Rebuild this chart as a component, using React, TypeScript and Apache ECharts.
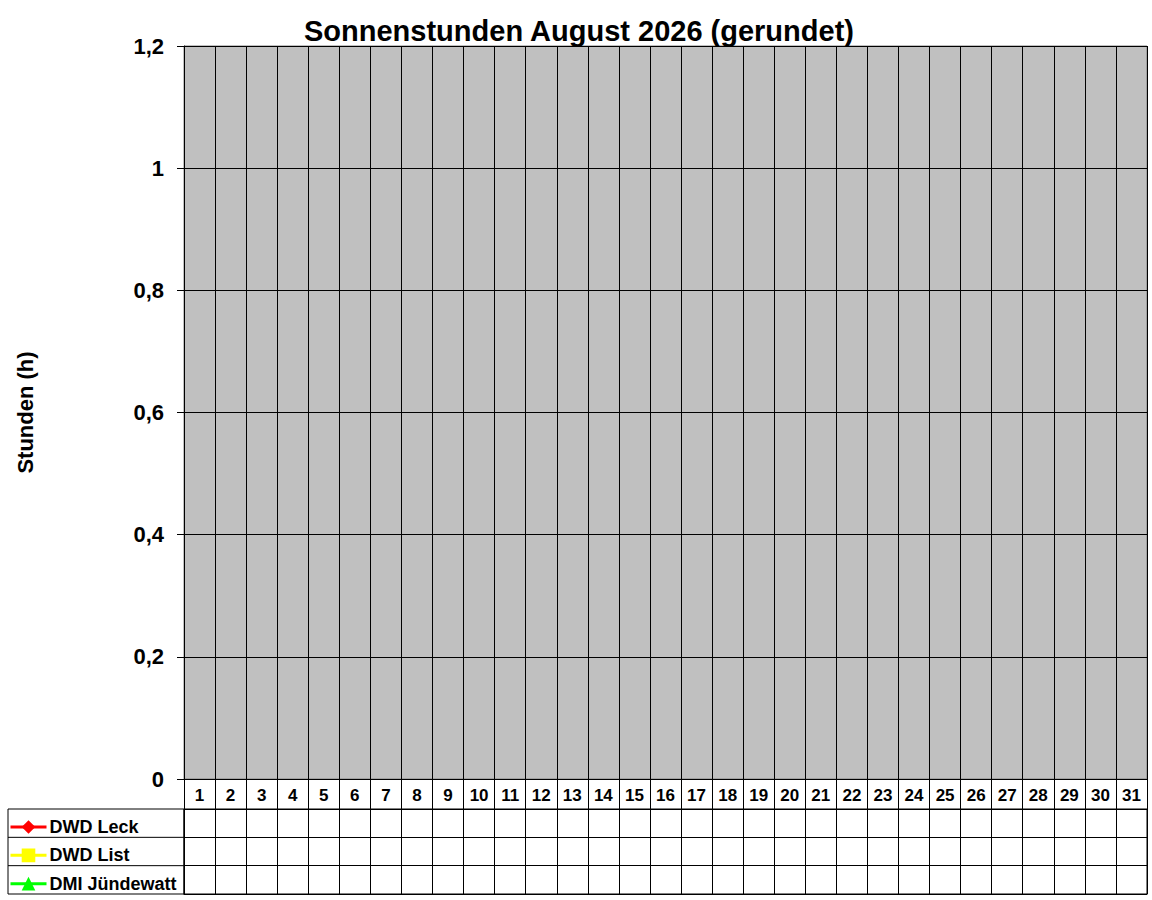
import React, { useEffect, useRef } from 'react';
import * as echarts from 'echarts';

// Tage im August 2026
const days = [
  '1', '2', '3', '4', '5', '6', '7', '8', '9', '10', '11', '12', '13', '14', '15', '16',
  '17', '18', '19', '20', '21', '22', '23', '24', '25', '26', '27', '28', '29', '30', '31'
];

const stations = ['DWD Leck', 'DWD List', 'DMI Jündewatt'];
const stationColors = ['#FF0000', '#FFFF00', '#00FF00'];
const stationSymbols = ['diamond', 'rect', 'triangle'];

// noch keine Messwerte für den Monat
const leckValues: (number | null)[] = [];
const listValues: (number | null)[] = [];
const juendewattValues: (number | null)[] = [];
const stationValues = [leckValues, listValues, juendewattValues];

const yTicks = { min: 0, max: 1.2, interval: 0.2 };

const FONT = '"Liberation Sans", Arial, sans-serif';

// Layout in px
const PLOT_LEFT = 184;
const PLOT_TOP = 46;
const PLOT_RIGHT = 1147;
const PLOT_BOTTOM = 779;
const ROW_HEAD = 30;
const TABLE_TOP = PLOT_BOTTOM + ROW_HEAD;
const TABLE_BOTTOM = 894;
const LEGEND_LEFT = 8;

const App: React.FC = () => {
  const chartRef = useRef<HTMLDivElement>(null);

  useEffect(() => {
    document.body.style.margin = '0';
    if (!chartRef.current) return;
    const chart = echarts.init(chartRef.current, undefined, { renderer: 'svg' });

    const rowH = (TABLE_BOTTOM - TABLE_TOP) / stations.length;
    const legendLines = stations.slice(1).map((_, i) => ({
      type: 'line',
      shape: {
        x1: LEGEND_LEFT,
        y1: TABLE_TOP + rowH * (i + 1),
        x2: PLOT_LEFT,
        y2: TABLE_TOP + rowH * (i + 1)
      },
      style: { stroke: '#000', lineWidth: 1 }
    }));

    // eine Legende je Tabellenzeile
    const legends = stations.map((name, i) => ({
      orient: 'horizontal',
      left: LEGEND_LEFT + 1,
      top: TABLE_TOP + rowH * i + 9,
      padding: 0,
      itemWidth: 36,
      itemHeight: 17,
      itemGap: 0,
      data: [name],
      lineStyle: { width: 3 },
      textStyle: { fontFamily: FONT, fontSize: 18, fontWeight: 'bold', color: '#000', padding: [0, 0, 0, -2] }
    }));

    const option = {
      animation: false,
      backgroundColor: '#fff',
      title: {
        text: 'Sonnenstunden August 2026 (gerundet)',
        left: 304,
        top: 16,
        padding: 0,
        textStyle: { fontFamily: FONT, fontSize: 29, fontWeight: 'bold', color: '#000' }
      },
      legend: legends,
      grid: [
        {
          left: PLOT_LEFT,
          top: PLOT_TOP,
          width: PLOT_RIGHT - PLOT_LEFT,
          height: PLOT_BOTTOM - PLOT_TOP,
          show: true,
          backgroundColor: '#C0C0C0',
          borderColor: '#808080',
          borderWidth: 1
        },
        {
          left: PLOT_LEFT,
          top: TABLE_TOP,
          width: PLOT_RIGHT - PLOT_LEFT,
          height: TABLE_BOTTOM - TABLE_TOP,
          show: true,
          backgroundColor: '#fff',
          borderColor: '#000',
          borderWidth: 1
        }
      ],
      xAxis: [
        {
          type: 'category',
          gridIndex: 0,
          data: days,
          boundaryGap: true,
          axisLine: { show: true, lineStyle: { color: '#000', width: 1 } },
          axisTick: { show: true, length: ROW_HEAD, lineStyle: { color: '#000', width: 1 } },
          axisLabel: {
            margin: 8,
            interval: 0,
            fontFamily: FONT,
            fontSize: 17,
            fontWeight: 'bold',
            color: '#000'
          },
          splitLine: { show: true, interval: 0, lineStyle: { color: '#000', width: 1 } }
        },
        {
          type: 'category',
          gridIndex: 1,
          data: days,
          boundaryGap: true,
          axisLine: { show: true, lineStyle: { color: '#000' } },
          axisTick: { show: false },
          axisLabel: { show: false },
          splitLine: { show: true, interval: 0, lineStyle: { color: '#000', width: 1 } }
        }
      ],
      yAxis: [
        {
          type: 'value',
          gridIndex: 0,
          min: yTicks.min,
          max: yTicks.max,
          interval: yTicks.interval,
          name: 'Stunden (h)',
          nameLocation: 'middle',
          nameRotate: 90,
          nameGap: 148,
          nameTextStyle: { fontFamily: FONT, fontSize: 22, fontWeight: 'bold', color: '#000' },
          axisLine: { show: true, lineStyle: { color: '#000', width: 1 } },
          axisTick: { show: true, length: 7, lineStyle: { color: '#000', width: 1 } },
          axisLabel: {
            margin: 20,
            fontFamily: FONT,
            fontSize: 22,
            fontWeight: 'bold',
            color: '#000',
            formatter: (v: number) => String(Number(v.toFixed(1))).replace('.', ',')
          },
          splitLine: { show: true, lineStyle: { color: '#000', width: 1 } }
        },
        {
          type: 'category',
          gridIndex: 1,
          inverse: true,
          data: stations,
          axisLine: { show: true, lineStyle: { color: '#000' } },
          axisTick: { show: false },
          axisLabel: { show: false },
          splitLine: { show: true, interval: 0, lineStyle: { color: '#000', width: 1 } }
        }
      ],
      graphic: [
        {
          type: 'rect',
          shape: {
            x: LEGEND_LEFT,
            y: TABLE_TOP,
            width: PLOT_LEFT - LEGEND_LEFT,
            height: TABLE_BOTTOM - TABLE_TOP
          },
          style: { fill: 'none', stroke: '#000', lineWidth: 1 }
        },
        ...legendLines
      ],
      series: stations.map((name, i) => ({
        name,
        type: 'line',
        xAxisIndex: 0,
        yAxisIndex: 0,
        data: stationValues[i],
        symbol: stationSymbols[i],
        symbolSize: 11,
        itemStyle: { color: stationColors[i] },
        lineStyle: { color: stationColors[i], width: 3 }
      }))
    } as any;

    chart.setOption(option);
    return () => {
      chart.dispose();
    };
  }, []);

  return <div ref={chartRef} style={{ width: 1152, height: 900 }} />;
};

export default App;
